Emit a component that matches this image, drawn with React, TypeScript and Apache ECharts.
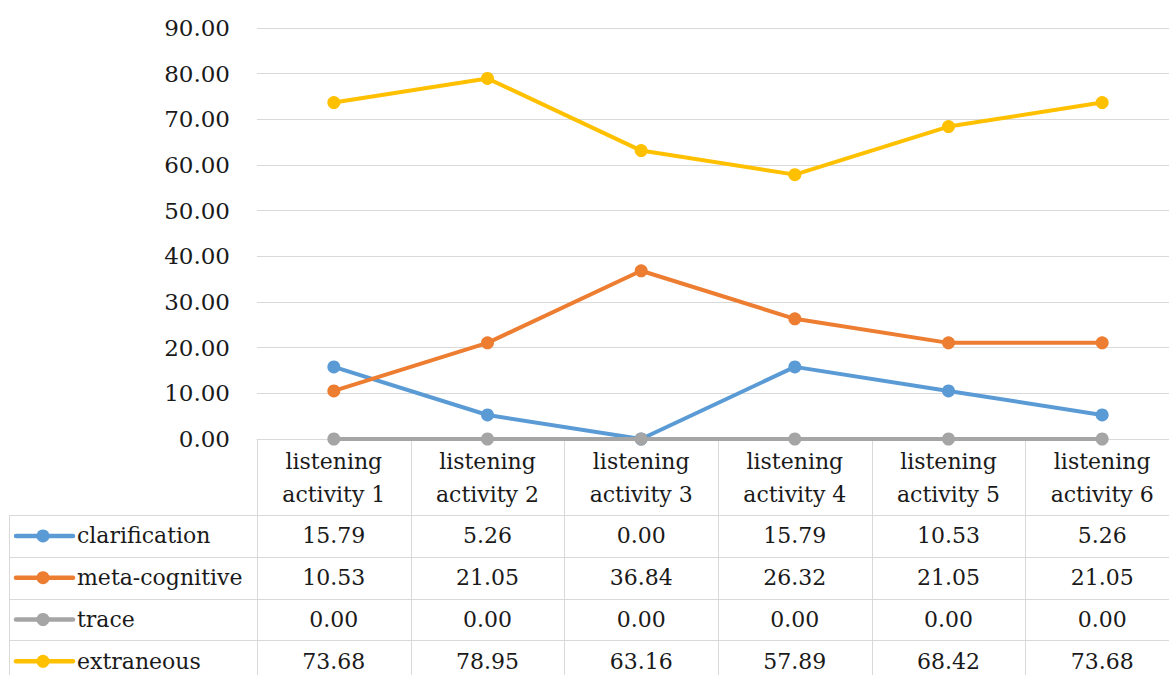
import React, { useEffect, useRef } from "react";
import * as echarts from "echarts";

const categories = [
  "listening activity 1",
  "listening activity 2",
  "listening activity 3",
  "listening activity 4",
  "listening activity 5",
  "listening activity 6",
];
const seriesNames = ["clarification", "meta-cognitive", "trace", "extraneous"];
const clarification = [15.79, 5.26, 0.0, 15.79, 10.53, 5.26];
const metaCognitive = [10.53, 21.05, 36.84, 26.32, 21.05, 21.05];
const trace = [0.0, 0.0, 0.0, 0.0, 0.0, 0.0];
const extraneous = [73.68, 78.95, 63.16, 57.89, 68.42, 73.68];
const colors = ["#5B9BD5", "#ED7D31", "#A5A5A5", "#FFC000"];
const yMin = 0;
const yMax = 90;
const yInterval = 10;

const FONT = "DejaVu Serif";
const FS = 22;
const W = 1190; // chart canvas is a bit wider than the page; the right edge is cropped like the reference
const H = 675;
const GRID_LEFT = 257;
const GRID_TOP = 28;
const GRID_BOTTOM_Y = 439;
const GRID_WIDTH = 922;
const TABLE_LEFT = 9;
const HEADER_BOTTOM = 515;
const ROW_H = 41.8;
const TEXT_COLOR = "#1a1a1a";

export default function App() {
  const ref = useRef<HTMLDivElement>(null);
  useEffect(() => {
    if (!ref.current) return;
    const chart = echarts.init(ref.current, undefined, { renderer: "svg" });
    const allData = [clarification, metaCognitive, trace, extraneous];
    const colW = GRID_WIDTH / categories.length;
    const lineColor = "#D9D9D9";
    const textStyle = (text: string, align: string) => ({
      text,
      font: `${FS}px "${FONT}"`,
      fill: TEXT_COLOR,
      align,
      verticalAlign: "middle",
    });
    const graphics: any[] = [];
    for (let i = 0; i <= categories.length; i++) {
      const x = Math.round(GRID_LEFT + i * colW) + 0.5;
      graphics.push({
        type: "line",
        shape: { x1: x, y1: GRID_BOTTOM_Y, x2: x, y2: H },
        style: { stroke: lineColor, lineWidth: 1 },
        silent: true,
      });
    }
    graphics.push({
      type: "line",
      shape: { x1: TABLE_LEFT + 0.5, y1: HEADER_BOTTOM, x2: TABLE_LEFT + 0.5, y2: H },
      style: { stroke: lineColor, lineWidth: 1 },
      silent: true,
    });
    for (let r = 0; r < seriesNames.length; r++) {
      const y = Math.round(HEADER_BOTTOM + r * ROW_H) + 0.5;
      graphics.push({
        type: "line",
        shape: { x1: TABLE_LEFT, y1: y, x2: GRID_LEFT + GRID_WIDTH, y2: y },
        style: { stroke: lineColor, lineWidth: 1 },
        silent: true,
      });
    }
    seriesNames.forEach((name, r) => {
      const cy = HEADER_BOTTOM + r * ROW_H + ROW_H / 2;
      graphics.push({
        type: "line",
        shape: { x1: 16, y1: cy, x2: 73, y2: cy },
        style: { stroke: colors[r], lineWidth: 4.5, lineCap: "round" },
        silent: true,
      });
      graphics.push({
        type: "circle",
        shape: { cx: 43, cy, r: 6.5 },
        style: { fill: colors[r] },
        silent: true,
      });
      graphics.push({
        type: "text",
        x: 77,
        y: cy,
        style: textStyle(name, "left"),
        silent: true,
      });
      allData[r].forEach((v, i) => {
        graphics.push({
          type: "text",
          x: GRID_LEFT + i * colW + colW / 2,
          y: cy,
          style: textStyle(v.toFixed(2), "center"),
          silent: true,
        });
      });
    });

    chart.setOption({
      animation: false,
      backgroundColor: "#ffffff",
      textStyle: { fontFamily: FONT },
      grid: {
        left: GRID_LEFT,
        top: GRID_TOP,
        width: GRID_WIDTH,
        height: GRID_BOTTOM_Y - GRID_TOP,
        containLabel: false,
      },
      xAxis: {
        type: "category",
        data: categories,
        boundaryGap: true,
        axisLine: { show: true, lineStyle: { color: lineColor, width: 1 } },
        axisTick: { show: false },
        axisLabel: {
          interval: 0,
          margin: 6,
          fontFamily: FONT,
          fontSize: FS,
          lineHeight: 33,
          color: TEXT_COLOR,
          formatter: (v: string) => {
            const idx = v.lastIndexOf("activity");
            return v.slice(0, idx).trim() + "\n" + v.slice(idx);
          },
        },
      },
      yAxis: {
        type: "value",
        min: yMin,
        max: yMax,
        interval: yInterval,
        axisLine: { show: false },
        axisTick: { show: false },
        splitLine: { lineStyle: { color: lineColor, width: 1 } },
        axisLabel: {
          margin: 27,
          fontFamily: FONT,
          fontSize: 23,
          color: TEXT_COLOR,
          formatter: (v: number) => v.toFixed(2),
        },
      },
      series: seriesNames.map((name, i) => ({
        name,
        type: "line",
        data: allData[i],
        symbol: "circle",
        symbolSize: 13,
        lineStyle: { color: colors[i], width: 4 },
        itemStyle: { color: colors[i] },
        z: 2 + i,
      })),
      graphic: graphics,
    });
    return () => chart.dispose();
  }, []);
  return (
    <div
      ref={ref}
      style={{ position: "fixed", left: 0, top: 0, width: W, height: H, background: "#fff" }}
    />
  );
}
